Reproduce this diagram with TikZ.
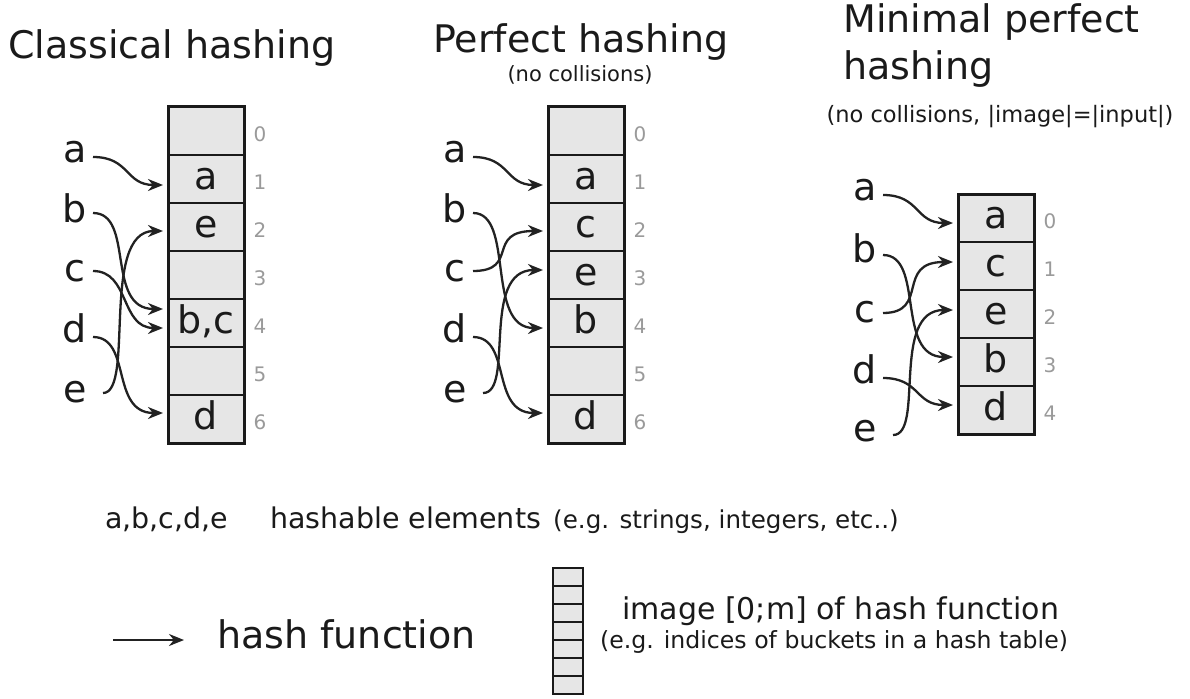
\documentclass[tikz,border=0pt]{standalone}
\usepackage{fontspec}
\setmainfont{DejaVu Sans}
\usetikzlibrary{arrows.meta}
\definecolor{cellfill}{HTML}{E6E6E6}
\definecolor{ink}{HTML}{1A1A1A}
\definecolor{idxgray}{HTML}{9A9A9A}
\definecolor{arrowc}{HTML}{222222}
\newcommand\fsz[1]{\fontsize{#1}{#1}\selectfont}
\begin{document}
\begin{tikzpicture}[x=1pt,y=-1pt,
  txt/.style={inner sep=0pt,anchor=base west,text=ink},
  ctxt/.style={inner sep=0pt,anchor=base,text=ink},
  idx/.style={inner sep=0pt,anchor=base,text=idxgray,font=\fsz{20}},
  letter/.style={inner sep=0pt,anchor=base,text=ink,font=\fsz{38}},
  cell/.style={draw=ink,line width=1.5pt,fill=cellfill,minimum width=76pt,minimum height=48pt,
    inner sep=0pt,outer sep=0pt,text=ink,font=\fsz{38},text height=28pt,text depth=7pt},
  smallcell/.style={fill=cellfill,minimum width=30pt,minimum height=18pt,
    inner sep=0pt,outer sep=0pt},
  frame/.style={draw=ink,line width=3pt},
  harrow/.style={draw=arrowc,line width=2.3pt,-{Stealth[length=15pt,width=12pt]}},
]
\useasboundingbox (0,0) rectangle (1190,698);
\fill[white] (0,0) rectangle (1190,698);

% ---------- titles ----------
\node[txt,font=\fsz{38}] (t1) at (8,59) {Classical hashing};
\node[txt,font=\fsz{38}] (t2) at (433,53) {Perfect hashing};
\node[ctxt,font=\fsz{21}] (t2s) at (580,82) {(no collisions)};
\node[txt,font=\fsz{38}] (t3a) at (843,33) {Minimal perfect};
\node[txt,font=\fsz{38}] (t3b) at (843,80) {hashing};
\node[ctxt,font=\fsz{22.5}] (t3s) at (1000,122) {(no collisions, |image|=|input|)};

% ---------- table 1 ----------
\foreach \t [count=\k from 0] in {{},a,e,{},{b,c},{},d} {
  \node[cell] (A\k) at (206,131+48*\k) {\t};
  \node[idx] (Ai\k) at (260,141+48*\k) {\k};
}
\draw[frame] (A0.north west) rectangle (A6.south east);
\node[letter] (La) at (75,162) {a};
\node[letter] (Lb) at (75,222) {b};
\node[letter] (Lc) at (75,281) {c};
\node[letter] (Ld) at (75,342) {d};
\node[letter] (Le) at (75,402) {e};
\coordinate (sAa) at (93,157);  \coordinate (eAa) at (163,185);
\coordinate (sAb) at (93,213);  \coordinate (eAb) at (163,309);
\coordinate (sAc) at (93,271);  \coordinate (eAc) at (163,328);
\coordinate (sAd) at (93,337);  \coordinate (eAd) at (163,413);
\coordinate (sAe) at (103,393); \coordinate (eAe) at (163,231);
\draw[harrow] (sAa) .. controls (130,157) and (125,185) .. (eAa);
\draw[harrow] (sAb) .. controls (135,213) and (105,309) .. (eAb);
\draw[harrow] (sAc) .. controls (130,271) and (120,328) .. (eAc);
\draw[harrow] (sAd) .. controls (132,337) and (110,413) .. (eAd);
\draw[harrow] (sAe) .. controls (135,393) and (100,231) .. (eAe);

% ---------- table 2 ----------
\foreach \t [count=\k from 0] in {{},a,c,e,b,{},d} {
  \node[cell] (B\k) at (586,131+48*\k) {\t};
  \node[idx] (Bi\k) at (640,141+48*\k) {\k};
}
\draw[frame] (B0.north west) rectangle (B6.south east);
\node[letter] (Ma) at (455,162) {a};
\node[letter] (Mb) at (455,222) {b};
\node[letter] (Mc) at (455,281) {c};
\node[letter] (Md) at (455,342) {d};
\node[letter] (Me) at (455,402) {e};
\coordinate (sBa) at (473,157);  \coordinate (eBa) at (543,185);
\coordinate (sBb) at (473,213);  \coordinate (eBb) at (543,328);
\coordinate (sBc) at (473,271);  \coordinate (eBc) at (543,231);
\coordinate (sBd) at (473,337);  \coordinate (eBd) at (543,413);
\coordinate (sBe) at (483,393);  \coordinate (eBe) at (543,270);
\draw[harrow] (sBa) .. controls (510,157) and (505,185) .. (eBa);
\draw[harrow] (sBb) .. controls (515,213) and (485,328) .. (eBb);
\draw[harrow] (sBc) .. controls (520,271) and (485,231) .. (eBc);
\draw[harrow] (sBd) .. controls (512,337) and (490,413) .. (eBd);
\draw[harrow] (sBe) .. controls (515,393) and (480,270) .. (eBe);

% ---------- table 3 ----------
\foreach \t [count=\k from 0] in {a,c,e,b,d} {
  \node[cell] (C\k) at (996,218+48*\k) {\t};
  \node[idx] (Ci\k) at (1050,228+48*\k) {\k};
}
\draw[frame] (C0.north west) rectangle (C4.south east);
\node[letter] (Na) at (865,200) {a};
\node[letter] (Nb) at (865,262) {b};
\node[letter] (Nc) at (865,322) {c};
\node[letter] (Nd) at (865,383) {d};
\node[letter] (Ne) at (865,441) {e};
\coordinate (sCa) at (883,195);  \coordinate (eCa) at (953,223);
\coordinate (sCb) at (883,255);  \coordinate (eCb) at (953,357);
\coordinate (sCc) at (883,313);  \coordinate (eCc) at (953,262);
\coordinate (sCd) at (883,378);  \coordinate (eCd) at (953,405);
\coordinate (sCe) at (893,435);  \coordinate (eCe) at (953,310);
\draw[harrow] (sCa) .. controls (920,195) and (915,223) .. (eCa);
\draw[harrow] (sCb) .. controls (925,255) and (895,357) .. (eCb);
\draw[harrow] (sCc) .. controls (930,313) and (895,262) .. (eCc);
\draw[harrow] (sCd) .. controls (920,378) and (915,405) .. (eCd);
\draw[harrow] (sCe) .. controls (925,435) and (890,310) .. (eCe);

% ---------- legend ----------
\node[txt,font=\fsz{28.5}] (l1) at (105,528) {a,b,c,d,e};
\node[txt,font=\fsz{28.5}] (l2) at (270,528) {hashable elements};
\node[txt,font=\fsz{24.6}] (l3) at (553,528) {(e.g. strings, integers, etc..)};
\coordinate (ha1) at (113,640);
\coordinate (ha2) at (184,640);
\draw[harrow] (ha1) -- (ha2);
\node[txt,font=\fsz{38}] (l4) at (217,648) {hash function};
\foreach \k in {0,...,6} {
  \node[smallcell] (S\k) at (568,577+18*\k) {};
}
\foreach \k in {1,...,6} {
  \draw[ink,line width=2.3pt] (S\k.north west) -- (S\k.north east);
}
\draw[ink,line width=2.6pt] (S0.north west) rectangle (S6.south east);
\node[txt,font=\fsz{30}] (l5) at (622,619) {image [0;m] of hash function};
\node[txt,font=\fsz{23.6}] (l6) at (600,648) {(e.g. indices of buckets in a hash table)};
\end{tikzpicture}
\end{document}
